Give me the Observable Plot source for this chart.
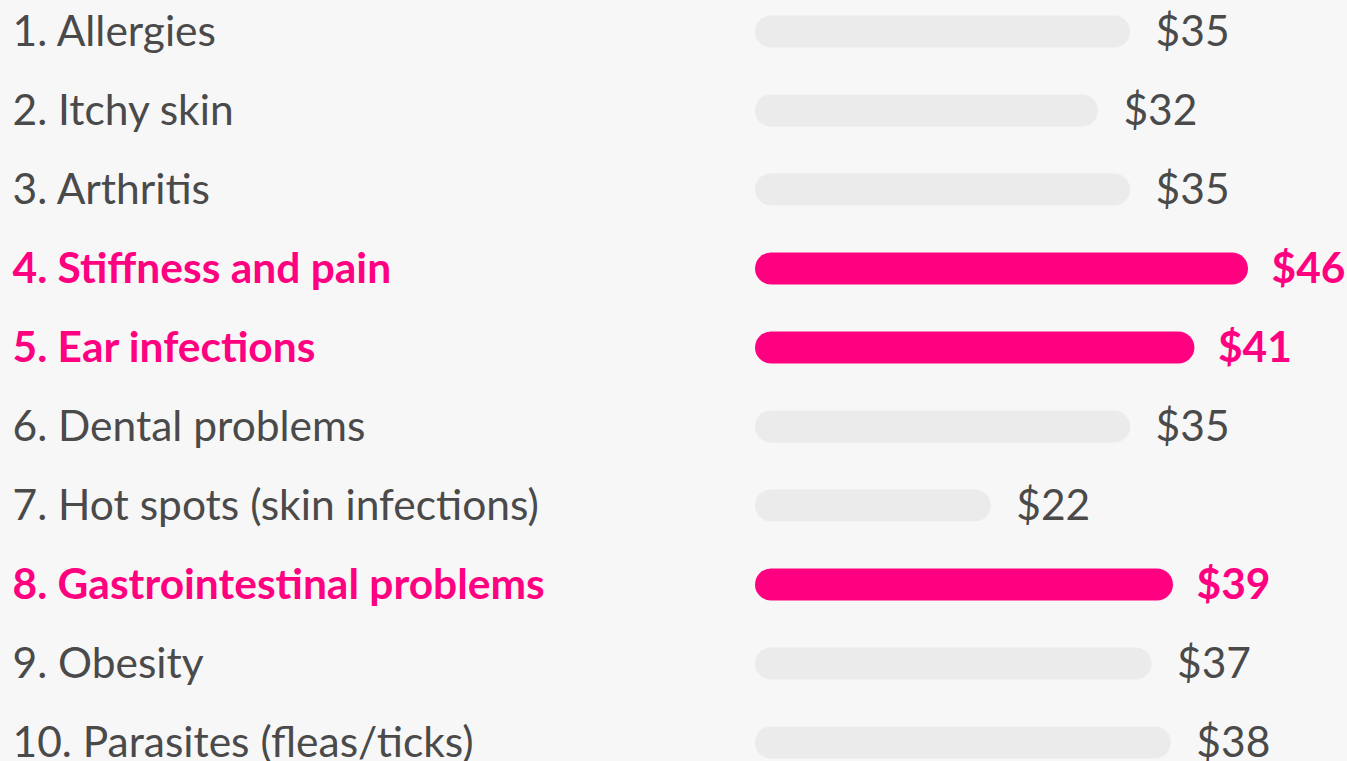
<!DOCTYPE html>
<html>
<head>
<meta charset="utf-8">
<script src="https://cdn.jsdelivr.net/npm/d3@7"></script>
<script src="https://cdn.jsdelivr.net/npm/@observablehq/plot@0.6"></script>
<style>
  html, body { margin: 0; padding: 0; background: #f7f7f7; overflow: hidden; }
  #chart svg { display: block; background: #f7f7f7; }
</style>
</head>
<body>
<div id="chart"></div>
<script>
const labels = [
  "1. Allergies",
  "2. Itchy skin",
  "3. Arthritis",
  "4. Stiffness and pain",
  "5. Ear infections",
  "6. Dental problems",
  "7. Hot spots (skin infections)",
  "8. Gastrointestinal problems",
  "9. Obesity",
  "10. Parasites (fleas/ticks)"
];
// displayed dollar values
const values = [35, 32, 35, 46, 41, 35, 22, 39, 37, 38];
// bar lengths (unrounded)
const barLengths = [35, 32, 35, 46, 41, 35, 22, 39, 37, 38.8];
const highlighted = [false, false, false, true, true, false, false, true, false, false];

const data = labels.map((label, i) => ({label, value: values[i], len: barLengths[i], hi: highlighted[i]}));
const normal = data.filter(d => !d.hi);
const bold = data.filter(d => d.hi);

const PINK = "#ff0080";
const GRAY_TEXT = "#4a4a4a";
const GRAY_BAR = "#ebebeb";
const FS = 42.5;

const chart = Plot.plot({
  width: 1347,
  height: 800,
  marginLeft: 0,
  marginRight: 0,
  marginTop: 0,
  marginBottom: 0,
  style: {fontFamily: "Lato, sans-serif", background: "#f7f7f7"},
  x: {domain: [0, 46], range: [755, 1248], axis: null},
  y: {domain: labels, range: [-8.5, 781.5], padding: 0, axis: null},
  marks: [
    Plot.barX(data, {
      x1: 0, x2: "len", y: "label",
      fill: d => d.hi ? PINK : GRAY_BAR,
      insetTop: 23.5, insetBottom: 23.5, rx: 16
    }),
    Plot.text(normal, {
      y: "label", text: "label", frameAnchor: "left", dx: 12, textAnchor: "start",
      fill: GRAY_TEXT, fontWeight: 400, fontSize: FS
    }),
    Plot.text(bold, {
      y: "label", text: "label", frameAnchor: "left", dx: 12, textAnchor: "start",
      fill: PINK, fontWeight: 700, fontSize: FS
    }),
    Plot.text(normal, {
      x: "len", y: "label", text: d => "$" + d.value, dx: 25, textAnchor: "start",
      fill: GRAY_TEXT, fontWeight: 400, fontSize: FS
    }),
    Plot.text(bold, {
      x: "len", y: "label", text: d => "$" + d.value, dx: 23, textAnchor: "start",
      fill: PINK, fontWeight: 700, fontSize: FS
    })
  ]
});
document.getElementById("chart").append(chart);
</script>
</body>
</html>
